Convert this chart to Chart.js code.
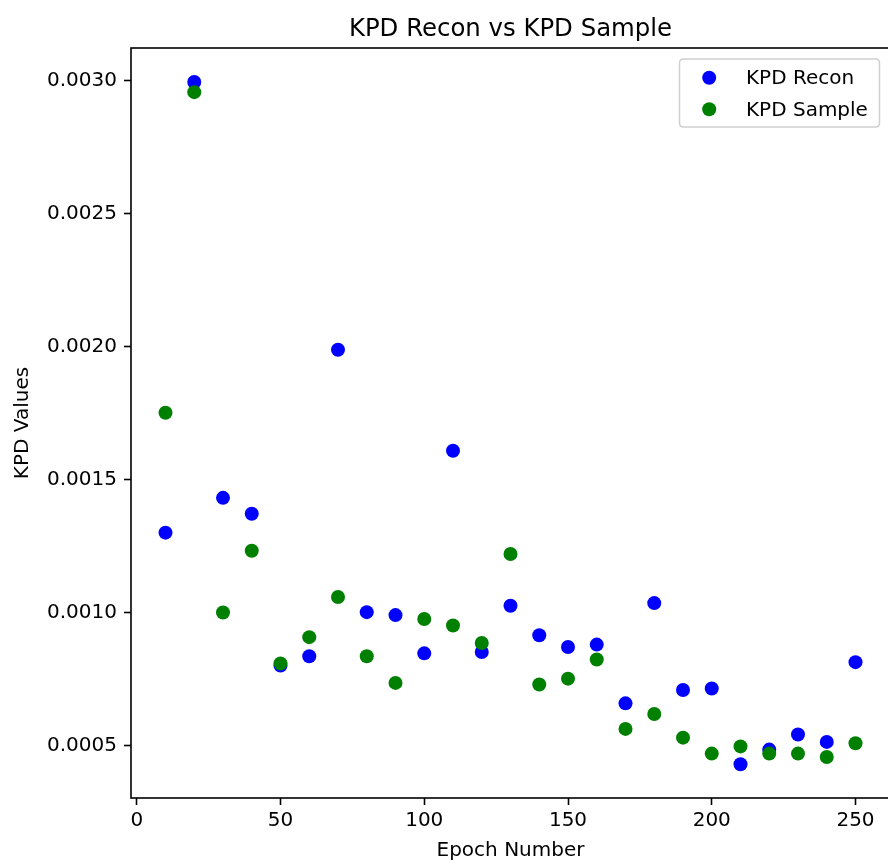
<!DOCTYPE html>
<html>
<head>
<meta charset="utf-8">
<script src="https://cdn.jsdelivr.net/npm/chart.js@4/dist/chart.umd.min.js"></script>
<style>
html,body{margin:0;padding:0;background:#fff;overflow:hidden;width:888px;height:866px}
#wrap{position:absolute;left:0;top:0;width:890px;height:866px}
canvas{display:block}
</style>
</head>
<body>
<div id="wrap"><canvas id="c" width="890" height="866"></canvas></div>
<script>
const chartTitle = 'KPD Recon vs KPD Sample';
const xAxisLabel = 'Epoch Number';
const yAxisLabel = 'KPD Values';
const seriesNames = ['KPD Recon', 'KPD Sample'];
const epochs = [10,20,30,40,50,60,70,80,90,100,110,120,130,140,150,160,170,180,190,200,210,220,230,240,250];
const kpdRecon = [0.00130,0.002995,0.001431,0.001371,0.000800,0.000835,0.001988,0.001001,0.000990,0.000846,0.001608,0.000851,0.001025,0.000914,0.000870,0.000879,0.000658,0.001035,0.000708,0.000714,0.000429,0.000484,0.000541,0.000513,0.000813];
const kpdSample = [0.001751,0.002957,0.001000,0.001232,0.000808,0.000907,0.001058,0.000835,0.000735,0.000975,0.000951,0.000885,0.001220,0.000729,0.000751,0.000823,0.000562,0.000618,0.000529,0.000469,0.000496,0.000469,0.000469,0.000456,0.000508];
const xTicks = [0,50,100,150,200,250];
const yTicks = [0.0005,0.0010,0.0015,0.0020,0.0025,0.0030];
const seriesColors = ['#0000ff', '#008000'];

const FONT = 'DejaVu Sans';

const framePlugin = {
  id: 'frame',
  afterDatasetsDraw(chart) {
    const {ctx, chartArea: a} = chart;
    ctx.save();
    ctx.strokeStyle = '#000';
    ctx.lineWidth = 1.6;
    ctx.strokeRect(a.left, a.top, a.right - a.left, a.bottom - a.top);
    ctx.restore();
  },
  afterDraw(chart) {
    const {ctx, chartArea: a} = chart;
    ctx.save();
    // title
    ctx.fillStyle = '#000';
    ctx.font = '24.4px "' + FONT + '"';
    ctx.textAlign = 'center';
    ctx.textBaseline = 'alphabetic';
    ctx.fillText(chartTitle, (a.left + a.right) / 2, 36);
    // legend
    const bw = 200, bh = 68;
    const bx = a.right - 10.5 - bw, by = a.top + 11;
    const r = 4;
    ctx.beginPath();
    ctx.moveTo(bx + r, by);
    ctx.lineTo(bx + bw - r, by);
    ctx.quadraticCurveTo(bx + bw, by, bx + bw, by + r);
    ctx.lineTo(bx + bw, by + bh - r);
    ctx.quadraticCurveTo(bx + bw, by + bh, bx + bw - r, by + bh);
    ctx.lineTo(bx + r, by + bh);
    ctx.quadraticCurveTo(bx, by + bh, bx, by + bh - r);
    ctx.lineTo(bx, by + r);
    ctx.quadraticCurveTo(bx, by, bx + r, by);
    ctx.closePath();
    ctx.fillStyle = 'rgba(255,255,255,0.8)';
    ctx.fill();
    ctx.strokeStyle = '#d0d0d0';
    ctx.lineWidth = 1.5;
    ctx.stroke();
    ctx.font = '20px "' + FONT + '"';
    ctx.textAlign = 'left';
    ctx.textBaseline = 'middle';
    chart.data.datasets.forEach((ds, i) => {
      const y = by + 18.7 + i * 31.6;
      ctx.beginPath();
      ctx.arc(bx + 29.7, y, 7, 0, Math.PI * 2);
      ctx.fillStyle = ds.backgroundColor;
      ctx.fill();
      ctx.fillStyle = '#000';
      ctx.fillText(ds.label, bx + 66.5, y + 1);
    });
    ctx.restore();
  }
};

const tickFont = {family: FONT, size: 20};

new Chart(document.getElementById('c'), {
  type: 'scatter',
  data: {
    datasets: [
      {label: seriesNames[0], data: epochs.map((e, i) => ({x: e, y: kpdRecon[i]})), backgroundColor: seriesColors[0], borderWidth: 0, pointRadius: 7, pointHoverRadius: 7, order: 2},
      {label: seriesNames[1], data: epochs.map((e, i) => ({x: e, y: kpdSample[i]})), backgroundColor: seriesColors[1], borderWidth: 0, pointRadius: 7, pointHoverRadius: 7, order: 1}
    ]
  },
  options: {
    responsive: false,
    animation: false,
    devicePixelRatio: 1,
    layout: {autoPadding: false, padding: {top: 48, right: 0, left: 0, bottom: 0}},
    plugins: {legend: {display: false}, title: {display: false}, tooltip: {enabled: false}},
    scales: {
      x: {
        type: 'linear', position: 'bottom', min: -2, max: 262,
        afterBuildTicks: s => { s.ticks = xTicks.map(v => ({value: v})); },
        afterFit: s => { s.height = 68; },
        ticks: {font: tickFont, color: '#000', padding: 4, maxRotation: 0, callback: v => String(v)},
        grid: {drawOnChartArea: false, drawTicks: true, tickLength: 7, tickWidth: 1.6, tickColor: '#000'},
        border: {display: false},
        title: {display: true, text: xAxisLabel, font: {family: FONT, size: 20}, color: '#000', padding: {top: 0, bottom: 3}}
      },
      y: {
        type: 'linear', min: 0.000302, max: 0.003123,
        afterBuildTicks: s => { s.ticks = yTicks.map(v => ({value: v})); },
        afterFit: s => { s.width = 131; },
        ticks: {font: tickFont, color: '#000', padding: 7, callback: v => v.toFixed(4)},
        grid: {drawOnChartArea: false, drawTicks: true, tickLength: 7, tickWidth: 1.6, tickColor: '#000'},
        border: {display: false},
        title: {display: true, text: yAxisLabel, font: {family: FONT, size: 20}, color: '#000', padding: {top: 11, bottom: 0}}
      }
    }
  },
  plugins: [framePlugin]
});
</script>
</body>
</html>
